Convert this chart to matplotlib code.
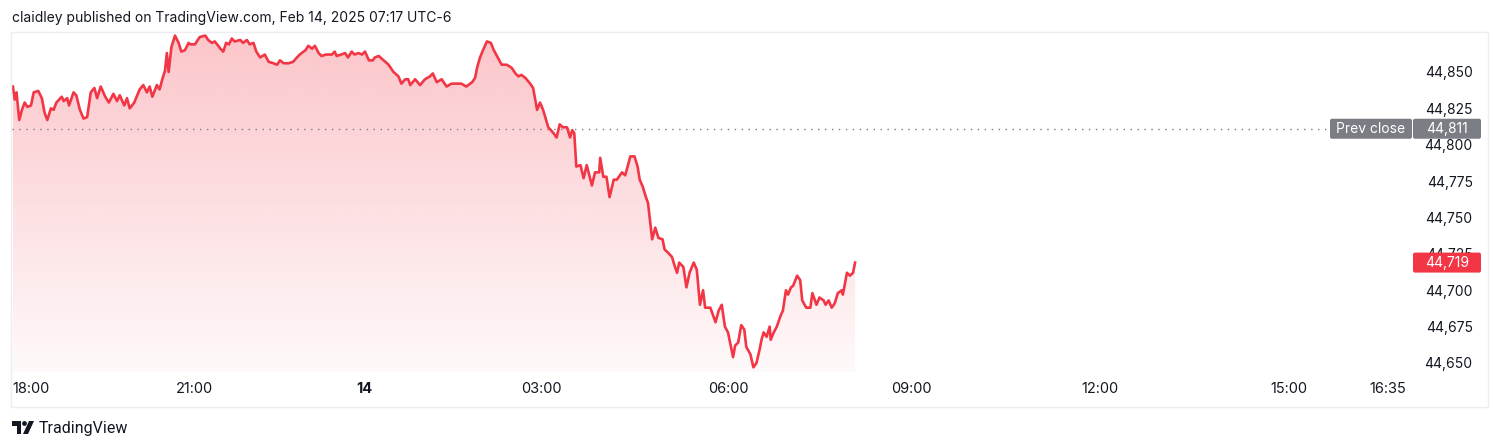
import numpy as np
import matplotlib.pyplot as plt
from matplotlib.patches import FancyBboxPatch, Polygon, Circle, Rectangle
from matplotlib.transforms import IdentityTransform
from matplotlib.ticker import FuncFormatter

plt.rcParams['font.family'] = ['Inter', 'DejaVu Sans']

# ---- data: minutes after 18:00 (Feb 13) and last price ----
TIME_MIN = [
    -20, -18, -16, -13, -10, -7, -4, 0, 3, 8, 12, 15, 18, 22, 25, 28, 34, 36, 40, 42,
    47, 50, 54, 58, 62, 66, 70, 73, 77, 82, 86, 91, 95, 98, 103, 106, 109, 114, 116, 120,
    124, 128, 131, 134, 139, 142, 145, 148, 150, 152, 155, 159, 163, 166, 170, 174,
    176, 181, 186, 192, 195, 199, 202, 208, 211, 214, 217, 220, 223, 229, 232, 236, 239, 243, 246, 250,
    255, 259, 264, 268, 271, 275, 280, 285, 289, 292, 298, 301, 305, 308, 312, 315, 320, 326, 329, 331,
    336, 340, 343, 347, 350, 354, 358, 361, 365, 369,
    371, 375, 380, 385, 390, 395, 398, 402, 405, 407, 412, 417, 422, 427, 430, 434, 439, 444, 449, 454,
    459, 464, 470, 473, 475, 478, 481, 485, 489, 492, 496, 500, 505, 510, 514, 517, 520, 524, 529, 532,
    536, 539, 542,
    547, 552, 555, 558, 561, 565, 568, 570, 572, 574, 578, 581, 584, 589, 592, 596, 597, 600, 603, 606,
    610, 613, 618, 621, 623, 626, 630, 633, 635, 638, 641, 643, 647, 650, 653, 657, 659, 662, 666, 669,
    671, 673, 677, 680, 683, 687, 690, 693, 696, 698, 703, 705, 708, 711,
    714, 717, 720, 725, 727, 730, 733, 736, 738, 742, 745, 748, 751, 753, 755, 758, 761, 762, 765, 768,
    772, 774, 777, 779, 782, 784, 788, 791, 793, 797, 801, 803, 807, 810, 814, 816, 819, 822, 825, 828,
    832, 833, 837, 840, 843, 845,
]
PRICE = [
    44840, 44831, 44836, 44817, 44824, 44829, 44826, 44827, 44836, 44837, 44832, 44822, 44817, 44825, 44824, 44829, 44833, 44830, 44832, 44827,
    44836, 44834, 44824, 44818, 44819, 44836, 44839, 44832, 44840, 44833, 44829, 44835, 44830, 44834, 44827, 44832, 44825, 44829, 44832, 44838,
    44841, 44836, 44840, 44833, 44841, 44838, 44845, 44851, 44863, 44850, 44867, 44875, 44870, 44864, 44865, 44870,
    44869, 44869, 44874, 44875, 44872, 44870, 44871, 44866, 44864, 44870, 44869, 44873, 44871, 44872, 44870, 44872, 44869, 44870, 44864, 44860,
    44862, 44857, 44856, 44855, 44858, 44856, 44856, 44857, 44860, 44862, 44865, 44868, 44866, 44868, 44863, 44861, 44862, 44862, 44864, 44861,
    44862, 44863, 44860, 44864, 44862, 44863, 44862, 44864, 44858, 44858,
    44860, 44861, 44858, 44855, 44850, 44847, 44842, 44845, 44845, 44841, 44845, 44841, 44845, 44847, 44849, 44843, 44845, 44840, 44842, 44842,
    44842, 44840, 44843, 44846, 44853, 44860, 44865, 44871, 44870, 44865, 44860, 44855, 44855, 44853, 44849, 44847, 44848, 44846, 44842, 44839,
    44824, 44829, 44824,
    44812, 44808, 44805, 44814, 44812, 44812, 44805, 44810, 44808, 44785, 44786, 44777, 44786, 44772, 44781, 44781, 44791, 44778, 44778, 44764,
    44776, 44776, 44781, 44779, 44784, 44792, 44792, 44785, 44776, 44771, 44764, 44760, 44735, 44743, 44736, 44735, 44728, 44726, 44723, 44716,
    44712, 44719, 44716, 44702, 44712, 44719, 44714, 44690, 44700, 44688, 44688, 44684, 44678, 44686,
    44690, 44675, 44671, 44654, 44662, 44664, 44676, 44673, 44661, 44656, 44647, 44650, 44659, 44666, 44671, 44668, 44675, 44666, 44671, 44675,
    44683, 44686, 44700, 44697, 44702, 44703, 44710, 44707, 44693, 44688, 44688, 44698, 44690, 44695, 44693, 44690, 44693, 44688, 44691, 44698,
    44700, 44697, 44712, 44710, 44712, 44719,
]
PREV_CLOSE = 44811
LAST = 44719

PRICE_TICKS = list(range(44650, 44851, 25))
TIME_TICKS = [0, 180, 360, 540, 720, 900, 1080, 1260, 1355]
TIME_LABELS = ['18:00', '21:00', '14', '03:00', '06:00', '09:00', '12:00', '15:00', '16:35']

# TradingView's time scale is bar based, so hours are not evenly spaced
AXIS_MIN = [-21] + TIME_TICKS + [1379]
AXIS_POS = [12, 31, 194, 364, 541, 728, 911, 1100, 1289, 1388, 1413]

RED = '#F23645'
GREY = '#7B7D84'
INK = '#131722'
W, H = 1500, 448

fig = plt.figure(figsize=(W / 100, H / 100), dpi=100)
ax = fig.add_axes([12 / W, 1 - 372 / H, 1401 / W, 339 / H])
ax.set_xscale('function', functions=(lambda m: np.interp(m, AXIS_MIN, AXIS_POS),
                                     lambda p: np.interp(p, AXIS_POS, AXIS_MIN)))
ylo, yhi = 44643.8, 44876.8

# gradient area under the line
poly = ax.fill_between(TIME_MIN, PRICE, ylo, color='none', lw=0)
rgba = np.zeros((256, 1, 4))
rgba[..., :3] = plt.matplotlib.colors.to_rgb(RED)
rgba[..., 3] = np.linspace(0.29, 0.03, 256)[:, None]
im = ax.imshow(rgba, extent=[0, 1, 0, 1], transform=ax.transAxes, aspect='auto',
               origin='upper', zorder=2, interpolation='bilinear')
im.set_clip_path(poly.get_paths()[0], ax.transData)

ax.axhline(PREV_CLOSE, color=GREY, lw=1, ls=(0, (1, 4)), zorder=3)
ax.plot(TIME_MIN, PRICE, color=RED, lw=1.9, zorder=4, solid_joinstyle='round')

ax.set_xlim(AXIS_MIN[0], AXIS_MIN[-1])
ax.set_ylim(ylo, yhi)
for s in ax.spines.values():
    s.set_visible(False)

ax.set_xticks(TIME_TICKS, TIME_LABELS)
ax.tick_params(axis='x', length=0, pad=7, labelsize=10.5, labelcolor=INK)
ax.get_xticklabels()[2].set_fontweight('bold')

ax.yaxis.tick_right()
ax.set_yticks(PRICE_TICKS)
ax.yaxis.set_major_formatter(FuncFormatter(lambda v, _: f'{int(v):,}'))
ax.tick_params(axis='y', length=0, pad=43, labelsize=10, labelcolor=INK)
plt.setp(ax.get_yticklabels(), ha='right')

# outer frame of the chart pane
fig.add_artist(Rectangle((11 / W, 1 - 407 / H), 1477 / W, 375 / H, transform=fig.transFigure,
                         fill=False, ec='#eceef3', lw=1))


def price_tag(x0, x1, value, text, face):
    y = ax.transData.transform((0, value))[1]
    fig.add_artist(FancyBboxPatch((x0, y - 10), x1 - x0, 20, boxstyle='round,pad=0,rounding_size=2',
                                  transform=IdentityTransform(), fc=face, ec='none', zorder=10))
    fig.text((x0 + x1) / 2, y, text, transform=IdentityTransform(), ha='center', va='center',
             color='white', fontsize=10, zorder=11)


price_tag(1330, 1412, PREV_CLOSE, 'Prev close', GREY)
price_tag(1413, 1481, PREV_CLOSE, f'{PREV_CLOSE:,}', GREY)
price_tag(1413, 1481, LAST, f'{LAST:,}', RED)

fig.text(12 / W, 1 - 18 / H, 'claidley published on TradingView.com, Feb 14, 2025 07:17 UTC-6',
         fontsize=10, va='center', color=INK)

# TradingView logo + wordmark
def px(x, y):
    return (x, H - y)

fig.add_artist(Polygon([px(12, 421), px(21, 421), px(21, 434), px(16.5, 434), px(16.5, 426), px(12, 426)],
                       transform=IdentityTransform(), fc=INK, ec='none'))
fig.add_artist(Circle(px(24.5, 423.5), 2.4, transform=IdentityTransform(), fc=INK, ec='none'))
fig.add_artist(Polygon([px(23, 434), px(28, 434), px(34, 421), px(29, 421)],
                       transform=IdentityTransform(), fc=INK, ec='none'))
fig.text(39 / W, 1 - 428 / H, 'TradingView', fontsize=11.5, va='center', color=INK, family='Roboto')

fig.savefig('out.png', dpi=100)
